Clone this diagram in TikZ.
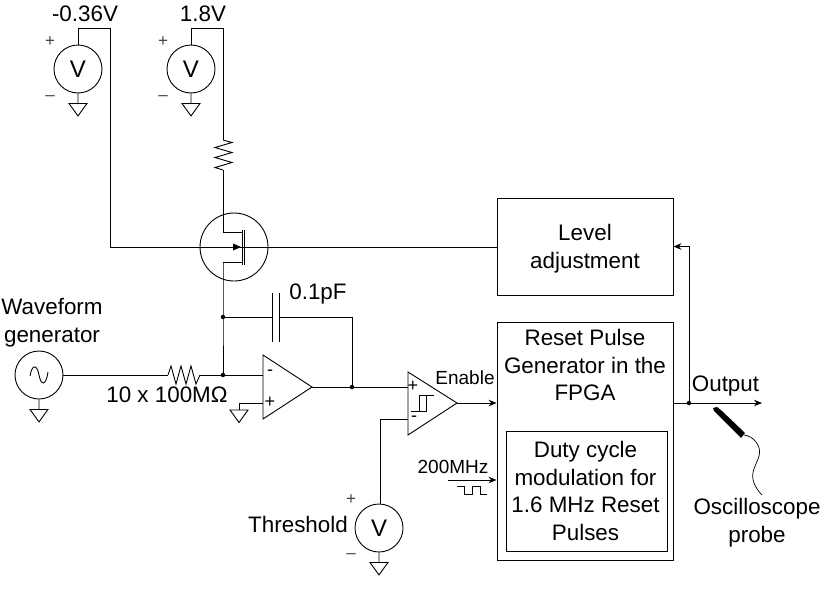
\documentclass[tikz,border=0pt]{standalone}
\usepackage{fontspec}
\setmainfont{Liberation Sans}
\usetikzlibrary{arrows.meta}
\tikzset{
  wire/.style={line width=0.9pt, line join=miter},
  arrowwire/.style={wire, -{Stealth[length=8pt,width=6.5pt]}},
  src/.style={circle, draw, line width=0.9pt, minimum size=48pt, inner sep=0pt, font=\fontsize{24}{24}\selectfont},
  lbl/.style={inner sep=0pt, align=center, font=\fontsize{22.4}{27.7}\selectfont},
  smalllbl/.style={inner sep=0pt, font=\fontsize{19}{19}\selectfont},
  pm/.style={inner sep=0pt, text=black!75, font=\fontsize{17}{17}\selectfont},
  box/.style={draw, line width=0.9pt, inner sep=0pt, align=center},
  dot/.style={circle, fill=black, inner sep=0pt, minimum size=4.5pt},
  gndsym/.style={wire, line join=miter}
}
\newcommand{\gndat}[1]{\draw[gndsym] (#1) -- ++(0,10) ++(-9,0) -- ++(18,0) -- ++(-9,12.5) -- cycle;}
\begin{document}
\begin{tikzpicture}[x=1pt,y=-1pt]
\useasboundingbox (0,0) rectangle (822,608);
% sources
\node[src] (v1) at (78,69) {V};
\node[src] (v2) at (191,69) {V};
\node[src] (v3) at (379,528) {V};
\node[src] (sg) at (39,375) {};
\draw[wire] (30,376) .. controls (32,364) and (37,364) .. (39,375) .. controls (41,386) and (46,386) .. (48,372);
\node[pm] (v1p) at (50,42) {+};
\node[pm] (v1m) at (50,98) {–};
\node[pm] (v2p) at (163,42) {+};
\node[pm] (v2m) at (163,98) {–};
\node[pm] (v3p) at (351,500) {+};
\node[pm] (v3m) at (351,556) {–};
\gndat{v1.south}
\gndat{v2.south}
\gndat{v3.south}
\gndat{sg.south}
% boxes
\node[box, minimum width=176pt, minimum height=97pt] (level) at (585,246.5) {};
\node[lbl] (leveltxt) at (585,248.5) {Level\\adjustment};
\node[box, minimum width=176pt, minimum height=238pt] (fpga) at (585,441) {};
\node[lbl] (fpgatxt) at (585,365) {Reset Pulse\\Generator in the\\FPGA};
\node[box, minimum width=161pt, minimum height=120pt, anchor=north west] (duty) at (506,431) {};
\node[lbl] (dutytxt) at (585.5,491) {Duty cycle\\modulation for\\1.6 MHz Reset\\Pulses};
% labels
\node[lbl] (t1) at (85,14) {-0.36V};
\node[lbl] (t2) at (203,14) {1.8V};
\node[lbl] (t3) at (52,323) {Waveform\\generator};
\node[lbl] (t4) at (167,395) {10 x 100MΩ};
\node[lbl] (t5) at (318,294) {0.1pF};
\node[lbl] (t6) at (298,524) {Threshold};
\node[smalllbl] (t7) at (465,378) {Enable};
\node[smalllbl] (t8) at (453,467) {200MHz};
\node[lbl] (t9) at (725.5,386) {Output};
\node[lbl] (t10) at (757,523) {Oscilloscope\\probe};
% coordinates
\coordinate (r1t) at (223,140);
\coordinate (r1b) at (223,170);
\coordinate (r2l) at (168,375);
\coordinate (r2r) at (200,375);
\coordinate (gate) at (110,247);
\coordinate (d1) at (223,232);
\coordinate (s1) at (223,262);
\node[circle, draw, line width=0.9pt, minimum size=68pt, inner sep=0pt] (q) at (234,247) {};
\node[dot] (j1) at (223,317) {};
\node[dot] (j2) at (223,375) {};
\node[dot] (j3) at (352,387) {};
\node[dot] (j4) at (689,403) {};
\coordinate (c1) at (272,317);
\coordinate (c2) at (279,317);
\coordinate (oa1) at (263,355);
\coordinate (oa2) at (263,419);
\coordinate (oao) at (312,387);
\coordinate (oam) at (263,375);
\coordinate (oap) at (263,403);
\coordinate (cp1) at (408,372);
\coordinate (cp2) at (408,435);
\coordinate (cpo) at (457,403);
\coordinate (cpp) at (408,387);
\coordinate (cpm) at (408,419);
% MOSFET
\draw[wire] (r1b) -- (d1) -- (242,232);
\draw[wire] (s1) -- (242,262);
\draw[line width=1pt] (242,230) -- (242,265);
\draw[line width=1pt] (244.5,230) -- (244.5,265);
\draw[wire] (v1.north) -- ++(0,-16) -| (gate) -- (level.west |- gate);
\fill (241,247) -- (233,243.5) -- (233,250.5) -- cycle;
\draw[wire] (v2.north) -- ++(0,-16) -| (r1t);
% vertical resistor
\draw[wire] (r1t) -- ++(9,2.5) -- ++(-17,5) -- ++(17,5) -- ++(-17,5) -- ++(17,5) -- ++(-17,5) -- (r1b);
\draw[wire] (s1) -- (j1.center) -- (j2.center);
% capacitor
\draw[wire] (j1) -- (c1);
\draw[line width=1pt] (272,293) -- (272,342);
\draw[line width=1pt] (279,293) -- (279,342);
\draw[wire] (c2) -- (j3 |- c2) -- (j3);
% input
\draw[wire] (sg.east) -- (r2l);
\draw[wire] (r2l) -- ++(3,-9) -- ++(5,18) -- ++(5,-18) -- ++(5,18) -- ++(5,-18) -- ++(5,18) -- ++(4,-9);
\draw[wire] (r2r) -- (j2) -- (oam);
% opamp
\draw[wire] (oa1) -- (oa2) -- (oao) -- cycle;
\node[lbl, font=\fontsize{18}{18}\selectfont] (oaminus) at (270,373) {-};
\node[lbl, font=\fontsize{18}{18}\selectfont] (oaplus) at (270,402) {+};
\draw[wire] (oap) -- (239,403) -- (239,410);
\draw[gndsym] (230,410) -- (248,410) -- (239,422.5) -- cycle;
\draw[wire] (oao) -- (j3) -- (cpp);
% comparator
\draw[wire] (cp1) -- (cp2) -- (cpo) -- cycle;
\node[lbl, font=\fontsize{18}{18}\selectfont] (cpplus) at (413,386) {+};
\node[lbl, font=\fontsize{18}{18}\selectfont] (cpminus) at (414,419) {-};
\draw[line width=0.8pt] (411,411) -- (426,411) -- (426,395) -- (434,395);
\draw[line width=0.8pt] (419,411) -- (419,395) -- (426,395);
\draw[wire] (cpm) -- (380,419) -- (v3.north -| 380,0);
\draw[arrowwire] (cpo) -- (fpga.west |- cpo);
% clock
\coordinate (clk) at (448,480);
\draw[arrowwire] (clk) -- (fpga.west |- clk);
\draw[line width=0.8pt] (457,486) -- (464,486) -- (464,494) -- (472,494) -- (472,486) -- (480,486) -- (480,494) -- (487,494);
% output
\draw[arrowwire] (fpga.east |- j4) -- (762,403);
\draw[arrowwire] (j4) -- (j4 |- level.east) -- (level.east);
% probe
\fill (713,408) -- (717,407) -- (722,411) -- (745,433) -- (741,438) -- (718,415) -- (714,411) -- cycle;
\draw[line width=0.7pt] (744,435) .. controls (754,436) and (762,447) .. (759,456) .. controls (756,466) and (750,472) .. (754,483) .. controls (756,488) and (759,492) .. (762,495);
\end{tikzpicture}
\end{document}
